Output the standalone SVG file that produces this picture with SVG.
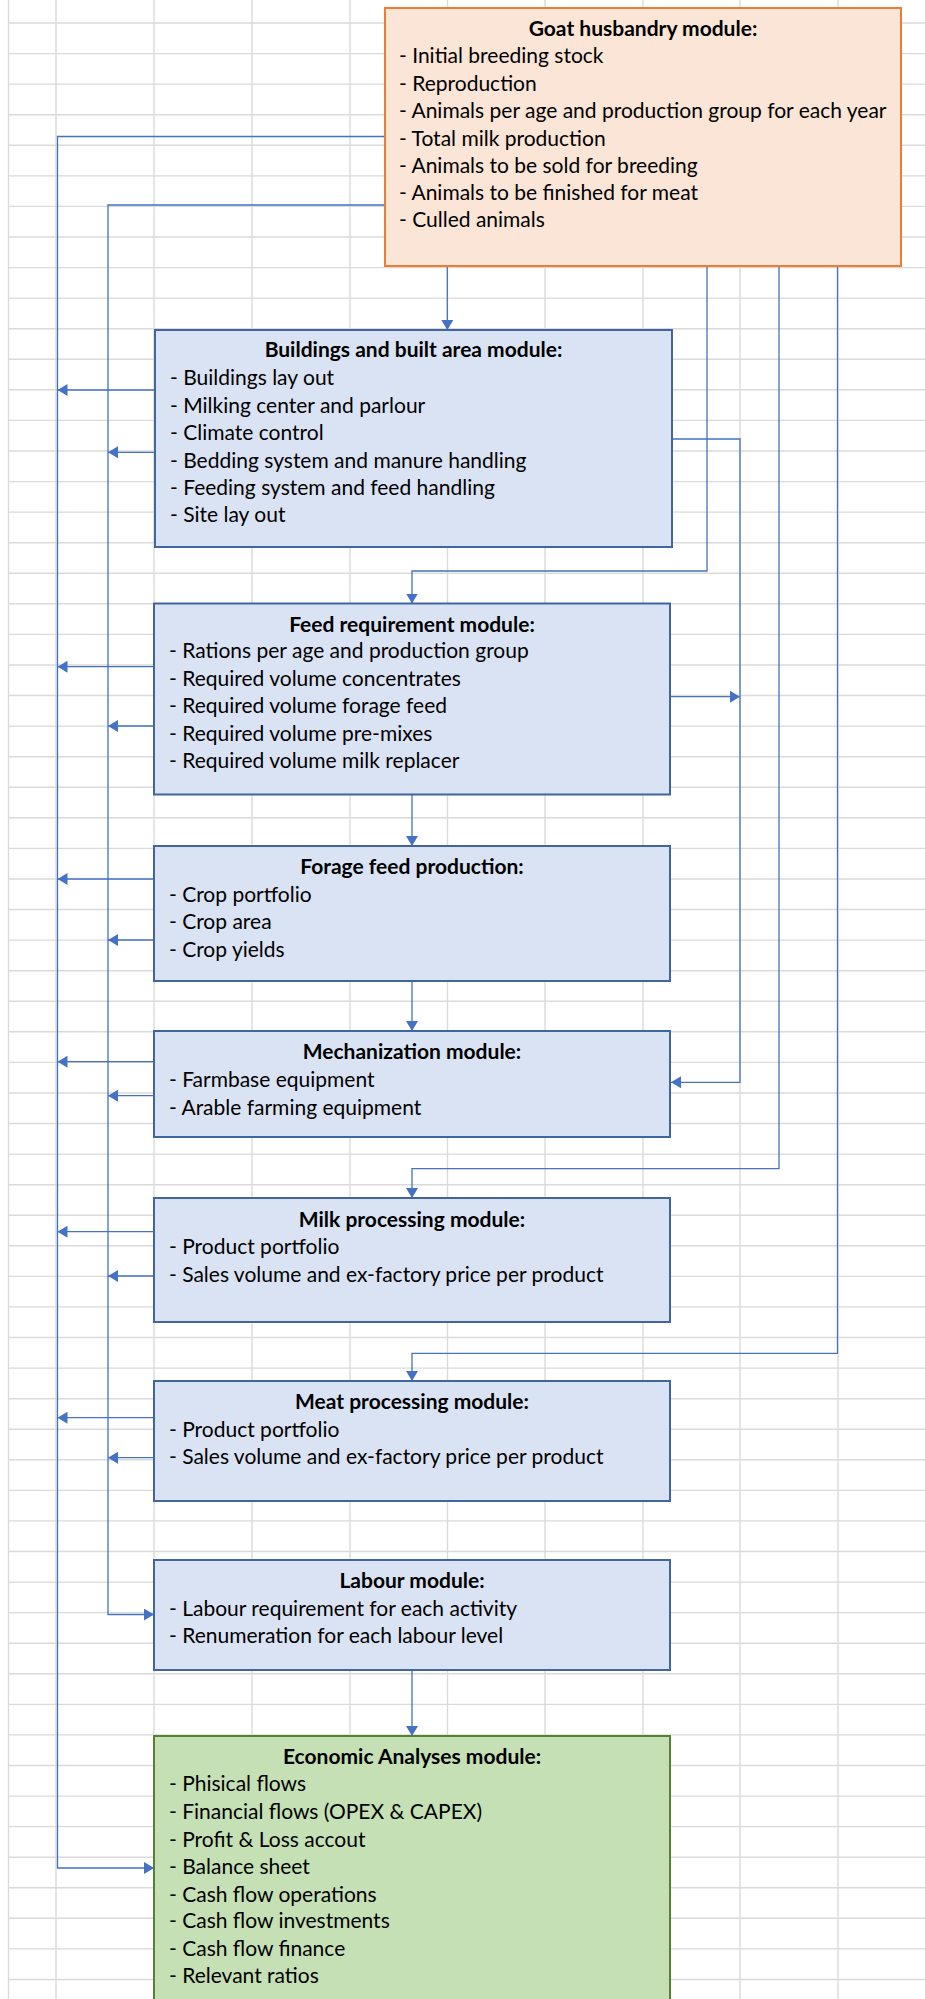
<svg xmlns="http://www.w3.org/2000/svg" width="925" height="1999" viewBox="0 0 925 1999">
<style>
.grid{stroke:#dadada;stroke-width:1.4;fill:none}
.conn{stroke:#4472c4;stroke-width:1.3;fill:none}
.blue{fill:#dae3f3;stroke:#41659f;stroke-width:2}
.orange{fill:#fbe5d6;stroke:#ed7d31;stroke-width:2}
.green{fill:#c5e0b4;stroke:#548235;stroke-width:2}
text{font-family:Lato,"Liberation Sans",sans-serif;font-size:21px;fill:#000}
.t{font-weight:bold;text-anchor:middle}
</style>
<defs>
<marker id="ah" viewBox="0 0 10 12" refX="10" refY="6" markerWidth="10" markerHeight="12" markerUnits="userSpaceOnUse" orient="auto">
<path d="M0,0 L10,6 L0,12 Z" fill="#4472c4"/>
</marker>
</defs>
<rect width="925" height="1999" fill="#fff"/>
<g id="grid">
<path class="grid" d="M8.5,0V1999M56,0V1999M154,0V1999M252,0V1999M350,0V1999M447.5,0V1999M545,0V1999M643,0V1999M740,0V1999M838,0V1999"/>
<path class="grid" d="M8.5,23H925M8.5,53.6H925M8.5,84.1H925M8.5,114.7H925M8.5,145.3H925M8.5,175.9H925M8.5,206.4H925M8.5,237H925M8.5,267.6H925M8.5,298.1H925M8.5,328.7H925M8.5,359.3H925M8.5,389.8H925M8.5,420.4H925M8.5,451H925M8.5,481.6H925M8.5,512.1H925M8.5,542.7H925M8.5,573.3H925M8.5,603.8H925M8.5,634.4H925M8.5,665H925M8.5,695.5H925M8.5,726.1H925M8.5,756.7H925M8.5,787.3H925M8.5,817.8H925M8.5,848.4H925M8.5,879H925M8.5,909.5H925M8.5,940.1H925M8.5,970.7H925M8.5,1001.2H925M8.5,1031.8H925M8.5,1062.4H925M8.5,1093H925M8.5,1123.5H925M8.5,1154.1H925M8.5,1184.7H925M8.5,1215.2H925M8.5,1245.8H925M8.5,1276.4H925M8.5,1306.9H925M8.5,1337.5H925M8.5,1368.1H925M8.5,1398.7H925M8.5,1429.2H925M8.5,1459.8H925M8.5,1490.4H925M8.5,1520.9H925M8.5,1551.5H925M8.5,1582.1H925M8.5,1612.6H925M8.5,1643.2H925M8.5,1673.8H925M8.5,1704.4H925M8.5,1734.9H925M8.5,1765.5H925M8.5,1796.1H925M8.5,1826.6H925M8.5,1857.2H925M8.5,1887.8H925M8.5,1918.3H925M8.5,1948.9H925M8.5,1979.5H925"/>
</g>
<g id="connectors">
<path class="conn" d="M385,136.5H57.5V1868H154" marker-end="url(#ah)"/>
<path class="conn" d="M385,205H108V1614.5H154" marker-end="url(#ah)"/>
<path class="conn" d="M155,390H57.5" marker-end="url(#ah)"/>
<path class="conn" d="M155,452.3H108" marker-end="url(#ah)"/>
<path class="conn" d="M154,666.7H57.5" marker-end="url(#ah)"/>
<path class="conn" d="M154,726H108" marker-end="url(#ah)"/>
<path class="conn" d="M154,879H57.5" marker-end="url(#ah)"/>
<path class="conn" d="M154,940H108" marker-end="url(#ah)"/>
<path class="conn" d="M154,1061.7H57.5" marker-end="url(#ah)"/>
<path class="conn" d="M154,1095.7H108" marker-end="url(#ah)"/>
<path class="conn" d="M154,1231.7H57.5" marker-end="url(#ah)"/>
<path class="conn" d="M154,1276H108" marker-end="url(#ah)"/>
<path class="conn" d="M154,1417.7H57.5" marker-end="url(#ah)"/>
<path class="conn" d="M154,1457.7H108" marker-end="url(#ah)"/>
<path class="conn" d="M447.3,266V330" marker-end="url(#ah)"/>
<path class="conn" d="M707,266V571H412V603.5" marker-end="url(#ah)"/>
<path class="conn" d="M412,794.5V846" marker-end="url(#ah)"/>
<path class="conn" d="M412,981V1031" marker-end="url(#ah)"/>
<path class="conn" d="M779,266V1168.7H412V1198" marker-end="url(#ah)"/>
<path class="conn" d="M837.5,266V1353.3H412V1381" marker-end="url(#ah)"/>
<path class="conn" d="M412,1670V1736" marker-end="url(#ah)"/>
<path class="conn" d="M672,439H740V1082.3H671" marker-end="url(#ah)"/>
<path class="conn" d="M670,696.7H740" marker-end="url(#ah)"/>
</g>
<g id="goat">
<rect class="orange" x="385" y="8" width="516" height="258"/>
<text class="t" x="643" y="36">Goat husbandry module:</text>
<text x="399" y="63.3">- Initial breeding stock</text>
<text x="399" y="90.7">- Reproduction</text>
<text x="399" y="118.3">- Animals per age and production group for each year</text>
<text x="399" y="146">- Total milk production</text>
<text x="399" y="173.3">- Animals to be sold for breeding</text>
<text x="399" y="200">- Animals to be finished for meat</text>
<text x="399" y="227.3">- Culled animals</text>
</g>
<g id="buildings">
<rect class="blue" x="155" y="330" width="517" height="217"/>
<text class="t" x="413.5" y="357.3">Buildings and built area module:</text>
<text x="170" y="385">- Buildings lay out</text>
<text x="170" y="412.7">- Milking center and parlour</text>
<text x="170" y="440">- Climate control</text>
<text x="170" y="467.7">- Bedding system and manure handling</text>
<text x="170" y="495">- Feeding system and feed handling</text>
<text x="170" y="521.7">- Site lay out</text>
</g>
<g id="feed">
<rect class="blue" x="154" y="603.5" width="516" height="191"/>
<text class="t" x="412" y="631.7">Feed requirement module:</text>
<text x="169" y="658.3">- Rations per age and production group</text>
<text x="169" y="686">- Required volume concentrates</text>
<text x="169" y="713.3">- Required volume forage feed</text>
<text x="169" y="741">- Required volume pre-mixes</text>
<text x="169" y="768.3">- Required volume milk replacer</text>
</g>
<g id="forage">
<rect class="blue" x="154" y="846" width="516" height="135"/>
<text class="t" x="412" y="874">Forage feed production:</text>
<text x="169" y="901.7">- Crop portfolio</text>
<text x="169" y="929.3">- Crop area</text>
<text x="169" y="956.7">- Crop yields</text>
</g>
<g id="mechanization">
<rect class="blue" x="154" y="1031" width="516" height="106"/>
<text class="t" x="412" y="1059.3">Mechanization module:</text>
<text x="169" y="1087.3">- Farmbase equipment</text>
<text x="169" y="1115">- Arable farming equipment</text>
</g>
<g id="milk">
<rect class="blue" x="154" y="1198" width="516" height="124"/>
<text class="t" x="412" y="1226.7">Milk processing module:</text>
<text x="169" y="1254.3">- Product portfolio</text>
<text x="169" y="1281.7">- Sales volume and ex-factory price per product</text>
</g>
<g id="meat">
<rect class="blue" x="154" y="1381" width="516" height="120"/>
<text class="t" x="412" y="1409.3">Meat processing module:</text>
<text x="169" y="1436.7">- Product portfolio</text>
<text x="169" y="1464.3">- Sales volume and ex-factory price per product</text>
</g>
<g id="labour">
<rect class="blue" x="154" y="1560" width="516" height="110"/>
<text class="t" x="412" y="1588.3">Labour module:</text>
<text x="169" y="1616">- Labour requirement for each activity</text>
<text x="169" y="1643.3">- Renumeration for each labour level</text>
</g>
<g id="economic">
<rect class="green" x="154" y="1736" width="516" height="290"/>
<text class="t" x="412" y="1764.3">Economic Analyses module:</text>
<text x="169" y="1791">- Phisical flows</text>
<text x="169" y="1819.3">- Financial flows (OPEX &amp; CAPEX)</text>
<text x="169" y="1846.7">- Profit &amp; Loss accout</text>
<text x="169" y="1874.3">- Balance sheet</text>
<text x="169" y="1901.7">- Cash flow operations</text>
<text x="169" y="1928.3">- Cash flow investments</text>
<text x="169" y="1956">- Cash flow finance</text>
<text x="169" y="1983.3">- Relevant ratios</text>
</g>
</svg>
